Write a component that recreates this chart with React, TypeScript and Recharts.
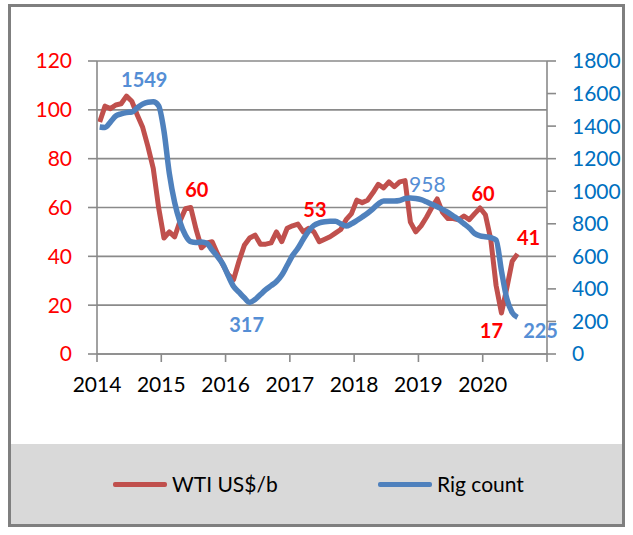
import * as React from "react"
import {
  CartesianGrid,
  LabelList,
  Line,
  LineChart,
  XAxis,
  YAxis,
} from "recharts"

// monthly values, Jan 2014 .. Jul 2020
const START_YEAR = 2014
const wti = [
  95, 101.5, 100.5, 102, 102.5, 105.6, 103.5, 98, 93, 85, 76, 60,
  47.5, 50, 48, 54.5, 59.5, 60, 51, 43.5, 45.5, 46, 41, 36.5,
  32.5, 30.5, 38, 44.5, 47.5, 48.7, 45, 45, 45.5, 50, 46, 51.5,
  52.5, 53.2, 50, 51.5, 50, 46, 47, 48, 49.5, 51, 55, 57.5,
  63, 62, 63, 66, 69.5, 68, 70.5, 68.5, 70.5, 71, 54, 50,
  52.5, 56, 60, 63.5, 58, 55.5, 55.5, 55, 56.5, 55, 57.5, 59.8,
  57, 47, 28, 16.8, 27, 38, 41,
]
const rigs = [
  1395, 1392, 1425, 1462, 1475, 1483, 1486, 1512, 1535, 1547, 1549, 1525,
  1370, 1110, 930, 810, 730, 690, 685, 688, 680, 638, 598, 552,
  480, 415, 380, 345, 317, 335, 365, 395, 420, 445, 485, 545,
  605, 650, 705, 755, 790, 805, 812, 815, 815, 800, 786, 800,
  820, 842, 865, 892, 922, 940, 940, 940, 943, 955, 958, 955,
  948, 935, 920, 905, 888, 870, 848, 826, 800, 774, 740, 725,
  720, 715, 700, 510, 340, 255, 225,
]
const years = [2014, 2015, 2016, 2017, 2018, 2019, 2020, 2021]
const priceTicks = [0, 20, 40, 60, 80, 100, 120]
const rigTicks = [0, 200, 400, 600, 800, 1000, 1200, 1400, 1600, 1800]

// which points carry a value note
const wtiNotes = [17, 37, 71, 75, 78]
const rigNotes = [10, 28, 58, 78]

const data = wti.map((v, i) => ({
  t: START_YEAR + (i + 0.5) / 12,
  wti: v,
  rigs: rigs[i],
}))

const RED = "#C0504D"
const BLUE = "#4F81BD"
const FONT = "Lato, 'Open Sans', sans-serif"

const wtiOffsets: Record<number, [number, number]> = {
  17: [6, -19],
  37: [17, -15],
  71: [3, -15],
  75: [-10, 17],
  78: [11, -17],
}
const rigOffsets: Record<number, [number, number]> = {
  10: [-9, -23],
  28: [-3, 22],
  58: [17, -15],
  78: [23, 13],
}

function note(
  which: number[],
  offsets: Record<number, [number, number]>,
  color: string,
) {
  return (props: any) => {
    const { x, y, value, index } = props
    if (!which.includes(index)) return null
    const [dx, dy] = offsets[index]
    return (
      <text
        key={index}
        x={x + dx}
        y={y + dy}
        textAnchor="middle"
        dominantBaseline="central"
        fill={color}
        fontFamily={FONT}
        fontWeight={index === 58 ? 400 : 700}
        fontSize={index === 58 ? 21 : 20}
      >
        {Math.round(value)}
      </text>
    )
  }
}

function LegendItem({ x, color, label }: { x: number; color: string; label: string }) {
  return (
    <div style={{ position: "absolute", left: x, top: 28, display: "flex", alignItems: "center" }}>
      <div style={{ width: 54, height: 5, background: color, borderRadius: 2 }} />
      <span style={{ marginLeft: 5, fontFamily: FONT, fontSize: 21, color: "#000", lineHeight: "24px" }}>
        {label}
      </span>
    </div>
  )
}

export default function App() {
  return (
    <div style={{ position: "absolute", left: 0, top: 0, width: 633, height: 535, background: "#fff" }}>
      <div
        style={{
          position: "absolute",
          left: 8,
          top: 4,
          width: 617,
          height: 523,
          border: "3px solid #7f7f7f",
          boxSizing: "border-box",
        }}
      />
      <div
        style={{
          position: "absolute",
          left: 11,
          top: 444,
          width: 611,
          height: 80,
          background: "#d9d9d9",
        }}
      >
        <LegendItem x={102} color={RED} label="WTI US$/b" />
        <LegendItem x={367} color={BLUE} label="Rig count" />
      </div>
      <div style={{ position: "absolute", left: 0, top: 0 }}>
        <LineChart
          width={633}
          height={440}
          data={data}
          margin={{ top: 61, right: 0, bottom: 0, left: 0 }}
        >
          <CartesianGrid yAxisId="price" vertical={false} stroke="#8a8a8a" strokeWidth={1.6} />
          <XAxis
            dataKey="t"
            type="number"
            domain={[2014, 2021]}
            ticks={years}
            tickFormatter={(v: number) => (v === 2021 ? "" : String(v))}
            height={86}
            tickSize={8}
            tickMargin={15}
            axisLine={{ stroke: "#8a8a8a", strokeWidth: 1.6 }}
            tickLine={{ stroke: "#8a8a8a", strokeWidth: 1.6 }}
            tick={{ fill: "#000", fontSize: 21, fontFamily: FONT }}
          />
          <YAxis
            yAxisId="price"
            orientation="left"
            domain={[0, 120]}
            ticks={priceTicks}
            width={97}
            tickSize={9}
            tickMargin={16}
            axisLine={{ stroke: "#8a8a8a", strokeWidth: 1.6 }}
            tickLine={{ stroke: "#8a8a8a", strokeWidth: 1.6 }}
            tick={{ fill: "#FF0000", fontSize: 21, fontFamily: FONT }}
          />
          <YAxis
            yAxisId="rigs"
            orientation="right"
            domain={[0, 1800]}
            ticks={rigTicks}
            width={86}
            tickSize={9}
            tickMargin={16}
            axisLine={{ stroke: "#8a8a8a", strokeWidth: 1.6 }}
            tickLine={{ stroke: "#8a8a8a", strokeWidth: 1.6 }}
            tick={{ fill: "#0070C0", fontSize: 21, fontFamily: FONT, textAnchor: "start" }}
          />
          <Line
            yAxisId="price"
            type="linear"
            dataKey="wti"
            stroke={RED}
            strokeWidth={5}
            strokeLinejoin="round"
            dot={false}
            isAnimationActive={false}
          >
            <LabelList dataKey="wti" content={note(wtiNotes, wtiOffsets, "#FF0000")} />
          </Line>
          <Line
            yAxisId="rigs"
            type="monotone"
            dataKey="rigs"
            stroke={BLUE}
            strokeWidth={5.5}
            strokeLinejoin="round"
            dot={false}
            isAnimationActive={false}
          >
            <LabelList dataKey="rigs" content={note(rigNotes, rigOffsets, "#558ED5")} />
          </Line>
        </LineChart>
      </div>
    </div>
  )
}
